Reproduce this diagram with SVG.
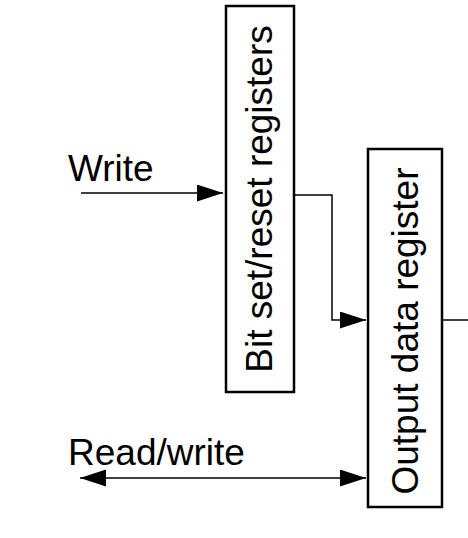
<svg xmlns="http://www.w3.org/2000/svg" width="468" height="538" viewBox="0 0 468 538">
<style>
.box{fill:#fff;stroke:#000;stroke-width:2.5}
.lbl{font-family:"Liberation Sans",Arial,sans-serif;font-size:37px;fill:#000}
.wire{fill:none;stroke:#000;stroke-width:1.5}
</style>
<defs>
<marker id="arr" markerUnits="userSpaceOnUse" markerWidth="26" markerHeight="18" refX="26" refY="8.5" orient="auto-start-reverse">
<path d="M0,0 L26,8.5 L0,17 Z" fill="#000"/>
</marker>
</defs>
<rect width="468" height="538" fill="#fff"/>
<g id="connectors">
<line class="wire" x1="81" y1="193" x2="223" y2="193" marker-end="url(#arr)"/>
<polyline class="wire" points="294,195 332,195 332,320 366,320" marker-end="url(#arr)"/>
<line class="wire" x1="442" y1="320" x2="468" y2="320"/>
<line class="wire" x1="80" y1="478" x2="366" y2="478" marker-start="url(#arr)" marker-end="url(#arr)"/>
</g>
<g id="bitset">
<rect class="box" x="226" y="6" width="68" height="386"/>
<text class="lbl" transform="translate(272,199) rotate(-90)" text-anchor="middle">Bit set/reset registers</text>
</g>
<g id="outdata">
<rect class="box" x="368" y="149" width="74" height="358"/>
<text class="lbl" transform="translate(418,331) rotate(-90)" text-anchor="middle">Output data register</text>
</g>
<g id="labels">
<text class="lbl" x="68" y="181">Write</text>
<text class="lbl" x="68" y="465">Read/write</text>
</g>
</svg>
